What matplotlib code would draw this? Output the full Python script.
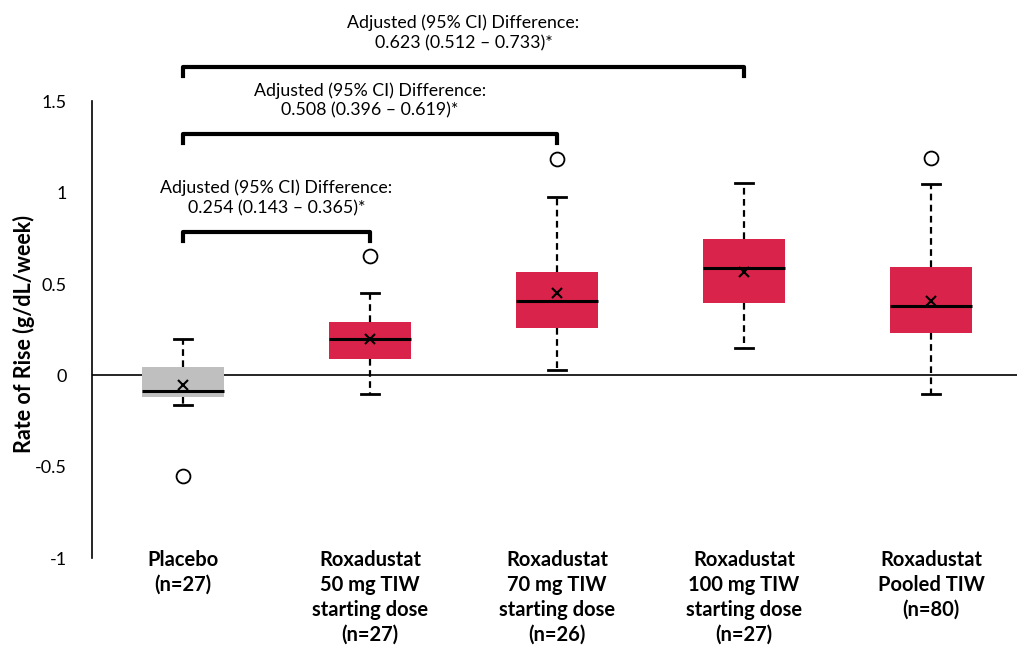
import matplotlib.pyplot as plt
import numpy as np

plt.rcParams['font.family'] = ['Lato', 'DejaVu Sans']

# data
groups = ['Placebo\n(n=27)',
          'Roxadustat\n50 mg TIW\nstarting dose\n(n=27)',
          'Roxadustat\n70 mg TIW\nstarting dose\n(n=26)',
          'Roxadustat\n100 mg TIW\nstarting dose\n(n=27)',
          'Roxadustat\nPooled TIW\n(n=80)']
q1 = [-0.118, 0.09, 0.26, 0.395, 0.233]
medians = [-0.083, 0.20, 0.407, 0.59, 0.38]
q3 = [0.048, 0.293, 0.565, 0.748, 0.594]
whis_lo = [-0.16, -0.10, 0.03, 0.15, -0.10]
whis_hi = [0.20, 0.45, 0.976, 1.05, 1.047]
means = [-0.052, 0.20, 0.453, 0.568, 0.407]
outliers = [[-0.55], [0.655], [1.186], [], [1.19]]
box_colors = ['#BFBFBF', '#D9234B', '#D9234B', '#D9234B', '#D9234B']

# comparisons vs placebo: (target group index, bracket height, text)
comparisons = [
    (1, 0.785, 'Adjusted (95% CI) Difference:\n0.254 (0.143 \u2013 0.365)*'),
    (2, 1.32, 'Adjusted (95% CI) Difference:\n0.508 (0.396 \u2013 0.619)*'),
    (3, 1.69, 'Adjusted (95% CI) Difference:\n0.623 (0.512 \u2013 0.733)*'),
]

fig = plt.figure(figsize=(10.17, 6.49), dpi=100)
ax = fig.add_axes([0.0905, 0.140, 0.9095, 0.704])

stats = []
for i in range(len(groups)):
    stats.append(dict(q1=q1[i], med=medians[i], q3=q3[i], whislo=whis_lo[i],
                      whishi=whis_hi[i], mean=means[i], fliers=outliers[i]))

x = np.arange(len(groups))
bp = ax.bxp(stats, positions=x, widths=0.44, patch_artist=True, showmeans=True,
            capwidths=0.1,
            boxprops=dict(linewidth=0),
            medianprops=dict(color='black', linewidth=2.2),
            whiskerprops=dict(color='black', linewidth=1.6, linestyle=(0, (3, 2))),
            capprops=dict(color='black', linewidth=2),
            meanprops=dict(marker='x', markeredgecolor='black', markersize=7,
                           markeredgewidth=1.5),
            flierprops=dict(marker='o', markerfacecolor='white',
                            markeredgecolor='black', markersize=10, markeredgewidth=1.3))
for patch, c in zip(bp['boxes'], box_colors):
    patch.set_facecolor(c)
    patch.set_zorder(2)

ax.axhline(0, color='black', linewidth=1.2, zorder=1)

# brackets with annotation text
for target, h, txt in comparisons:
    ax.plot([0, 0, target, target], [h - 0.05, h, h, h - 0.05], color='black',
            linewidth=3, clip_on=False, solid_joinstyle='round')
    ax.text(target / 2, h + 0.185, txt, ha='center', va='center', fontsize=12.8,
            linespacing=1.3, clip_on=False)

ax.set_xlim(-0.487, 4.46)
ax.set_ylim(-1, 1.5)
ax.set_yticks([-1, -0.5, 0, 0.5, 1, 1.5])
ax.set_yticklabels(['-1', '-0.5', '0', '0.5', '1', '1.5'], fontsize=13)
ax.tick_params(axis='y', length=0, pad=18)
ax.tick_params(axis='x', length=0)
ax.set_xticks([])
for s in ['top', 'right', 'bottom']:
    ax.spines[s].set_visible(False)
ax.spines['left'].set_linewidth(1.2)

for i, g in enumerate(groups):
    ax.text(x[i], -0.955, g, ha='center', va='top', fontsize=14.5, fontweight='bold',
            linespacing=1.3, transform=ax.transData, clip_on=False)

ax.set_ylabel('Rate of Rise (g/dL/week)', fontsize=15.5, fontweight='bold')
ax.yaxis.set_label_coords(-0.0616, 0.49)

fig.savefig('out.png', dpi=100)
